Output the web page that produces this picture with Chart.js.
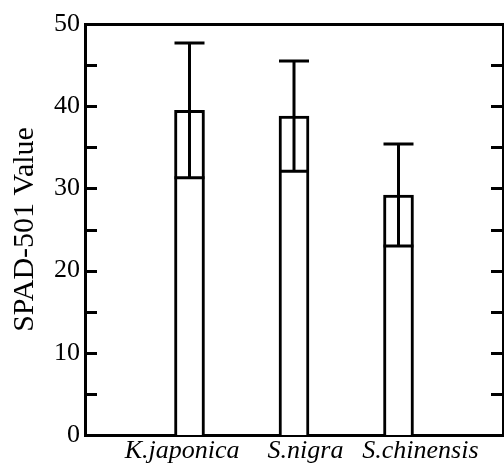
<!DOCTYPE html>
<html>
<head>
<meta charset="utf-8">
<script src="https://cdn.jsdelivr.net/npm/chart.js@4"></script>
<style>
  body { margin: 0; background: #fff; }
  #wrap { width: 504px; height: 468px; }
</style>
</head>
<body>
<div id="wrap"><canvas id="myChart" width="504" height="468"></canvas></div>
<script>
  var species = ['K.japonica', 'S.nigra', 'S.chinensis'];
  var spadMean = [39.5, 38.8, 29.2];
  var spadSd = [8.2, 6.7, 6.2];
  var yTickValues = [0, 10, 20, 30, 40, 50];
  var tickMarks = [5, 10, 15, 20, 25, 30, 35, 40, 45];

  // where the species names sit along the bottom (in slot units, bars are at 1, 2, 3)
  var labelAt = [0.93, 2.11, 3.21];

  var serif = "'Liberation Serif', 'Times New Roman', serif";

  // blank slot at each end keeps the bars inside the frame
  var slots = [''].concat(species, ['']);
  var meanSlots = [null].concat(spadMean, [null]);
  var sdSlots = [null].concat(spadSd, [null]);

  // short inward ticks on both the left and right frame
  var innerTicks = {
    id: 'innerTicks',
    afterDraw: function(chart) {
      var ctx = chart.ctx;
      var y = chart.scales.y;
      var area = chart.chartArea;
      ctx.save();
      ctx.strokeStyle = '#000';
      ctx.lineWidth = 3;
      tickMarks.forEach(function(v) {
        var py = Math.round(y.getPixelForValue(v)) + 0.5;
        ctx.beginPath();
        ctx.moveTo(area.left, py);
        ctx.lineTo(area.left + 12, py);
        ctx.moveTo(area.right, py);
        ctx.lineTo(area.right - 12, py);
        ctx.stroke();
      });
      ctx.restore();
    }
  };

  // error bars: line through the bar with caps at mean +/- sd
  var errorBars = {
    id: 'errorBars',
    afterDatasetsDraw: function(chart) {
      var ctx = chart.ctx;
      var y = chart.scales.y;
      var meta = chart.getDatasetMeta(0);
      ctx.save();
      ctx.strokeStyle = '#000';
      ctx.lineWidth = 3;
      meta.data.forEach(function(bar, i) {
        if (meanSlots[i] == null) return;
        var top = y.getPixelForValue(meanSlots[i] + sdSlots[i]);
        var bot = y.getPixelForValue(meanSlots[i] - sdSlots[i]);
        var half = bar.width / 2;
        ctx.beginPath();
        ctx.moveTo(bar.x, top);
        ctx.lineTo(bar.x, bot);
        ctx.moveTo(bar.x - half, top);
        ctx.lineTo(bar.x + half, top);
        ctx.moveTo(bar.x - half, bot);
        ctx.lineTo(bar.x + half, bot);
        ctx.stroke();
      });
      ctx.restore();
    }
  };

  const ctx = document.getElementById('myChart');

  new Chart(ctx, {
    type: 'bar',
    data: {
      labels: slots,
      datasets: [{
        data: meanSlots,
        backgroundColor: '#fff',
        borderColor: '#000',
        borderWidth: 3,
        barThickness: 30
      }]
    },
    options: {
      responsive: false,
      animation: false,
      layout: { padding: { top: 24, right: 1, left: 0, bottom: 0 } },
      plugins: {
        legend: { display: false },
        tooltip: { enabled: false }
      },
      scales: {
        x: {
          type: 'category',
          offset: false,
          weight: 0,
          grid: { display: false, drawTicks: false },
          border: { display: true, color: '#000', width: 3 },
          ticks: { display: false },
          afterFit: function(s) { s.height = 0; }
        },
        xLab: {
          type: 'linear',
          position: 'bottom',
          weight: 1,
          offset: false,
          min: 0,
          max: 4,
          afterBuildTicks: function(s) {
            s.ticks = labelAt.map(function(v) { return { value: v }; });
          },
          grid: { display: false, drawTicks: false, offset: false },
          border: { display: false },
          ticks: {
            autoSkip: false,
            maxRotation: 0,
            padding: 1,
            color: '#000',
            font: { family: serif, size: 26, style: 'italic' },
            callback: function(v, i) { return species[i]; }
          },
          afterFit: function(s) { s.height = 33; }
        },
        xTop: {
          type: 'category',
          position: 'top',
          offset: false,
          grid: { display: false, drawTicks: false },
          border: { display: true, color: '#000', width: 3 },
          ticks: { display: false },
          afterFit: function(s) { s.height = 0; }
        },
        y: {
          min: 0,
          max: 50,
          afterBuildTicks: function(s) {
            s.ticks = yTickValues.map(function(v) { return { value: v }; });
          },
          grid: { display: false, drawTicks: false },
          border: { display: true, color: '#000', width: 3 },
          ticks: {
            padding: 5,
            color: '#000',
            font: { family: serif, size: 26 }
          },
          title: {
            display: true,
            text: 'SPAD-501 Value',
            color: '#000',
            padding: { top: 7, bottom: 0 },
            font: { family: serif, size: 30 }
          },
          afterFit: function(s) { s.width = 85; }
        },
        yRight: {
          position: 'right',
          min: 0,
          max: 50,
          grid: { display: false, drawTicks: false },
          border: { display: true, color: '#000', width: 3 },
          ticks: { display: false },
          afterFit: function(s) { s.width = 0; }
        }
      }
    },
    plugins: [innerTicks, errorBars]
  });
</script>
</body>
</html>
